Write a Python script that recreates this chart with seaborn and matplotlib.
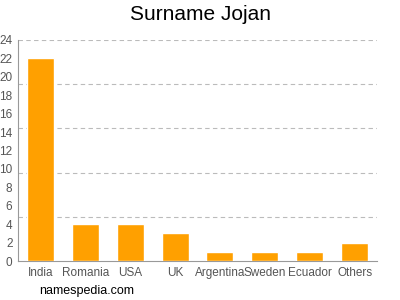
import matplotlib
matplotlib.use("Agg")
import matplotlib.pyplot as plt
import seaborn as sns
import pandas as pd

countries = ["India", "Romania", "USA", "UK", "Argentina", "Sweden", "Ecuador", "Others"]
counts = [22, 4, 4, 3, 1, 1, 1, 2]
yticks = list(range(0, 25, 2))
grid_levels = [4.8, 9.6, 14.4, 19.2, 24]

sns.set_style("white")
plt.rcParams['font.family'] = ['Liberation Sans', 'DejaVu Sans']

fig = plt.figure(figsize=(4, 3), dpi=100)
ax = fig.add_axes([0.045, 0.13, 0.8975, 0.7367])

df = pd.DataFrame({"country": countries, "count": counts})
sns.barplot(data=df, x="country", y="count", color="#FFA000", saturation=1,
            width=0.6, ax=ax, zorder=3)

for g in grid_levels:
    ax.axhline(g, color="#BBBBBB", linestyle=(0, (4, 3)), linewidth=0.8, zorder=1)

ax.set_xlim(-0.5, 7.5)
ax.set_ylim(0, 24)
ax.set_yticks(yticks)
ax.set_yticklabels([str(t) for t in yticks])
ax.set_xlabel("")
ax.set_ylabel("")
ax.tick_params(axis="both", colors="#888888", labelcolor="#555555", labelsize=8.5,
               length=3, width=0.8, pad=1)
for s in ["top", "right"]:
    ax.spines[s].set_visible(False)
for s in ["left", "bottom"]:
    ax.spines[s].set_color("#999999")
    ax.spines[s].set_linewidth(0.8)

fig.text(0.5, 0.95, "Surname Jojan", ha="center", va="center", fontsize=15, color="#000000")
fig.text(0.097, 0.03, "namespedia.com", ha="left", va="center", fontsize=9, color="#000000")

fig.savefig("out.png", dpi=100)
